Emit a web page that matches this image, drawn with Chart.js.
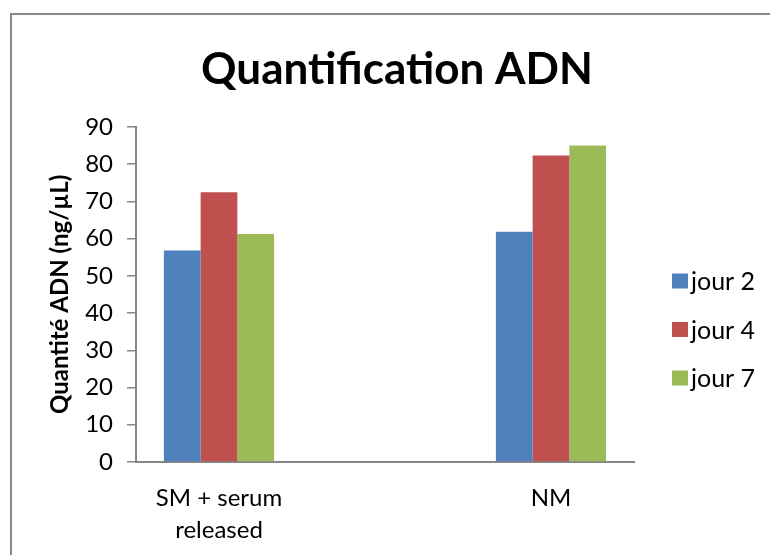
<!DOCTYPE html>
<html>
<head>
<meta charset="utf-8">
<script src="https://cdn.jsdelivr.net/npm/chart.js@4.4.1/dist/chart.umd.min.js"></script>
<style>
  body { margin: 0; background: #fff; overflow: hidden; }
  #wrap { position: relative; width: 770px; height: 555px; }
  #frame { position: absolute; left: 10px; top: 13px; width: 800px; height: 600px; border: 2px solid #888; }
  canvas { position: absolute; left: 0; top: 0; }
</style>
</head>
<body>
<div id="wrap">
  <div id="frame"></div>
  <canvas id="chart" width="770" height="555"></canvas>
</div>
<script>
// categories (middle one is empty, like the Excel source)
const categories = [['SM + serum', 'released'], '', 'NM'];
const seriesNames = ['jour 2', 'jour 4', 'jour 7'];
const jour2 = [56.8, null, 61.8];
const jour4 = [72.4, null, 82.3];
const jour7 = [61.2, null, 85.0];
const yMin = 0, yMax = 90, yStep = 10;

const colors = ['#4F81BD', '#C0504D', '#9BBB59'];
const axisGrey = '#868686';
const fontFamily = 'Lato, Carlito, "Open Sans", sans-serif';

// legend drawn by hand on the right, Excel style (small gap between box and text)
const sideLegend = {
    id: 'sideLegend',
    afterDraw(chart) {
        const c = chart.ctx;
        c.save();
        c.font = '25px ' + fontFamily;
        c.textBaseline = 'middle';
        c.textAlign = 'left';
        chart.data.datasets.forEach((ds, i) => {
            const y = 281 + i * 48.5;
            c.fillStyle = ds.backgroundColor;
            c.fillRect(672, y - 7.5, 16, 15);
            c.fillStyle = '#000';
            c.fillText(ds.label, 691, y + 1);
        });
        c.restore();
    }
};

function renderChart() {
    const ctx = document.getElementById('chart').getContext('2d');
    new Chart(ctx, {
        type: 'bar',
        data: {
            labels: categories,
            datasets: [jour2, jour4, jour7].map((vals, i) => ({
                label: seriesNames[i],
                data: vals,
                backgroundColor: colors[i],
                borderWidth: 0,
                categoryPercentage: 0.664,
                barPercentage: 1.0,
                yAxisID: 'y'
            }))
        },
        plugins: [sideLegend],
        options: {
            responsive: false,
            animation: false,
            layout: { padding: { left: 24, right: 0, top: 0, bottom: 0 } },
            plugins: {
                title: {
                    display: true,
                    text: 'Quantification ADN',
                    color: '#000',
                    font: { family: fontFamily, size: 44, weight: 'bold', lineHeight: 1.2 },
                    padding: { top: 43, bottom: 31 }
                },
                legend: { display: false },
                tooltip: { enabled: false }
            },
            scales: {
                x: {
                    grid: { display: false, drawTicks: false, tickLength: 0 },
                    border: { display: true, color: axisGrey, width: 2 },
                    ticks: {
                        color: '#000',
                        font: { family: fontFamily, size: 24, lineHeight: 1.333 },
                        padding: 20,
                        maxRotation: 0,
                        autoSkip: false
                    },
                    afterFit: scale => { scale.height = 93; }
                },
                y: {
                    min: yMin,
                    max: yMax,
                    grid: { drawOnChartArea: false, drawTicks: true, tickLength: 9, color: axisGrey, lineWidth: 1.5 },
                    border: { display: true, color: axisGrey, width: 2 },
                    ticks: {
                        stepSize: yStep,
                        color: '#000',
                        font: { family: fontFamily, size: 24 },
                        padding: 14
                    },
                    title: {
                        display: true,
                        text: 'Quantité ADN (ng/µL)',
                        color: '#000',
                        font: { family: fontFamily, size: 24, weight: 'bold', lineHeight: 1.2 },
                        padding: { top: 22, bottom: 0 }
                    },
                    afterFit: scale => { scale.width = 112; }
                },
                // empty right-hand box that leaves room for the legend
                side: {
                    position: 'right',
                    display: true,
                    grid: { display: false, drawTicks: false },
                    border: { display: false },
                    ticks: { display: false },
                    afterFit: scale => { scale.width = 136; }
                }
            }
        }
    });
}

window.onload = renderChart;
</script>
</body>
</html>
